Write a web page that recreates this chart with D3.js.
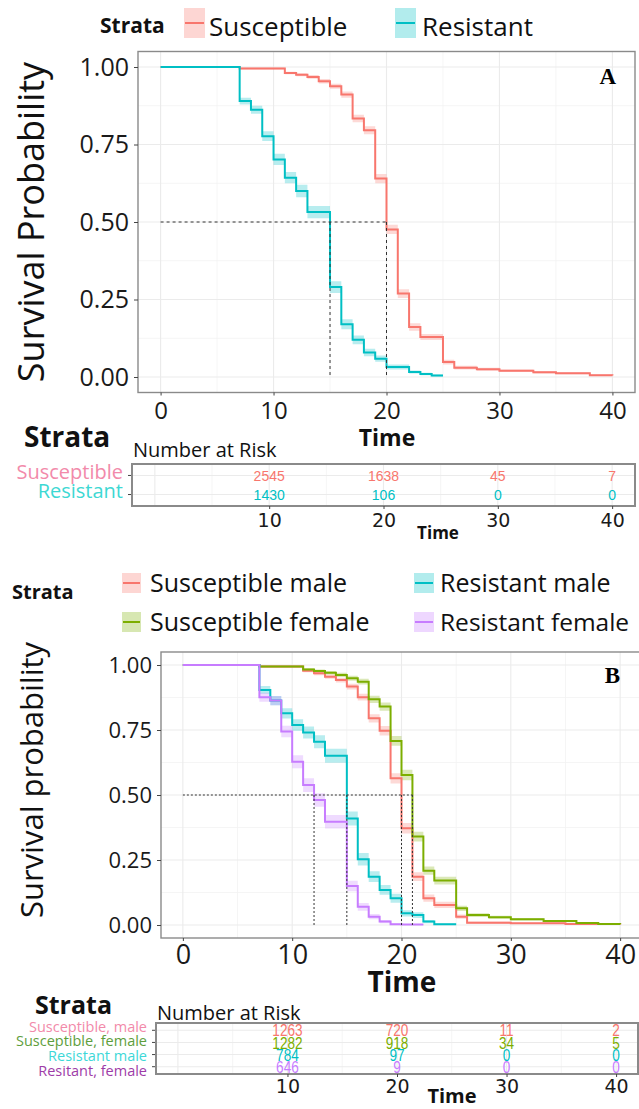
<!doctype html>
<html lang="en">
<head>
  <meta charset="UTF-8">
  <title>Survival curves</title>
  <script src="https://cdn.jsdelivr.net/npm/d3@7"></script>
  <style>
    body { margin: 0; background: #fff; }
  </style>
</head>
<body>
<div id="container"></div>
<script type="text/javascript">
// ---- panel A : two strata ----
var susTimeA = [0, 7, 11, 12, 13, 14, 15, 16, 17, 18, 19, 20, 21, 22, 23, 25, 26, 28, 30, 33, 35, 38, 40];
var susSurvA = [1, 0.995, 0.981, 0.975, 0.968, 0.954, 0.938, 0.911, 0.834, 0.796, 0.64, 0.476, 0.269, 0.161, 0.129, 0.048, 0.030, 0.025, 0.020, 0.015, 0.012, 0.006, 0.005];
var susCiA   = [0, 0.003, 0.004, 0.005, 0.006, 0.007, 0.008, 0.010, 0.012, 0.013, 0.015, 0.015, 0.014, 0.012, 0.010, 0.008, 0.006, 0.005, 0.004, 0.004, 0.003, 0.003, 0.003];

var resTimeA = [0, 7, 8, 9, 10, 11, 12, 13, 15, 16, 17, 18, 19, 20, 22, 23, 24, 25];
var resSurvA = [1, 0.89, 0.862, 0.777, 0.702, 0.643, 0.60, 0.532, 0.29, 0.17, 0.12, 0.079, 0.059, 0.032, 0.016, 0.010, 0.005, 0.005];
var resCiA   = [0, 0.011, 0.013, 0.016, 0.018, 0.018, 0.02, 0.02, 0.019, 0.016, 0.014, 0.012, 0.01, 0.008, 0.005, 0.004, 0.003, 0.003];

var medianA = [15, 20];
var strataA = ['Susceptible', 'Resistant'];

// ---- panel B : four strata ----
var smTime = [0, 7, 11, 12, 13, 14, 15, 16, 17, 18, 19, 20, 21, 22, 23, 25, 26, 30, 35, 40];
var smSurv = [1, 0.994, 0.978, 0.968, 0.955, 0.942, 0.917, 0.876, 0.795, 0.747, 0.564, 0.372, 0.186, 0.103, 0.077, 0.032, 0.009, 0.007, 0.004, 0.002];
var smCi   = [0, 0.004, 0.006, 0.007, 0.008, 0.009, 0.011, 0.013, 0.016, 0.018, 0.02, 0.02, 0.017, 0.014, 0.012, 0.008, 0.004, 0.003, 0.002, 0.002];

var sfTime = [0, 7, 11, 12, 13, 14, 15, 16, 17, 18, 19, 20, 21, 22, 23, 25, 26, 28, 30, 33, 36, 38, 40];
var sfSurv = [1, 0.994, 0.983, 0.977, 0.970, 0.962, 0.949, 0.936, 0.868, 0.84, 0.708, 0.577, 0.34, 0.209, 0.171, 0.064, 0.038, 0.030, 0.022, 0.015, 0.008, 0.004, 0.003];
var sfCi   = [0, 0.004, 0.005, 0.006, 0.007, 0.008, 0.01, 0.011, 0.014, 0.016, 0.019, 0.02, 0.019, 0.016, 0.015, 0.01, 0.007, 0.006, 0.005, 0.004, 0.003, 0.002, 0.002];

var rmTime = [0, 7, 8, 9, 10, 11, 12, 13, 15, 16, 17, 18, 19, 20, 21, 22, 23, 25];
var rmSurv = [1, 0.904, 0.863, 0.814, 0.769, 0.74, 0.705, 0.651, 0.41, 0.253, 0.186, 0.135, 0.103, 0.045, 0.038, 0.013, 0.003, 0.003];
var rmCi   = [0, 0.015, 0.018, 0.02, 0.022, 0.023, 0.025, 0.027, 0.027, 0.024, 0.021, 0.019, 0.017, 0.012, 0.011, 0.006, 0.003, 0.003];

var rfTime = [0, 7, 8, 9, 10, 11, 12, 13, 15, 16, 17, 18, 19, 20, 22];
var rfSurv = [1, 0.876, 0.863, 0.744, 0.628, 0.538, 0.481, 0.397, 0.15, 0.07, 0.032, 0.013, 0.003, 0.002, 0.002];
var rfCi   = [0, 0.017, 0.018, 0.022, 0.025, 0.026, 0.026, 0.026, 0.02, 0.015, 0.01, 0.006, 0.003, 0.002, 0.002];

var medianB = [12, 15, 20, 21];
var legendB = ['Susceptible male', 'Resistant male', 'Susceptible female', 'Resistant female'];
var strataB = ['Susceptible, male', 'Susceptible, female', 'Resistant male', 'Resitant, female'];

// ---- number at risk ----
var riskTimes = [10, 20, 30, 40];
var riskSusA = [2545, 1638, 45, 7];
var riskResA = [1430, 106, 0, 0];
var riskSm = [1263, 720, 11, 2];
var riskSf = [1282, 918, 34, 5];
var riskRm = [784, 97, 0, 0];
var riskRf = [646, 9, 0, 0];

var xTicks = [0, 10, 20, 30, 40];
var yTicks = [0, 0.25, 0.5, 0.75, 1];

var RED = '#F8766D', TEAL = '#00BFC4', GREEN = '#7CAE00', PURPLE = '#C77CFF';

var svg = d3.select('#container').append('svg')
  .attr('width', 639)
  .attr('height', 1109)
  .style('font-family', '"Open Sans", sans-serif');
svg.append('rect').attr('width', 639).attr('height', 1109).attr('fill', '#fff');

function styleAxis(sel, size, family) {
  sel.select('.domain').remove();
  sel.selectAll('.tick line').attr('stroke', '#444');
  sel.selectAll('.tick text')
    .attr('fill', '#1a1a1a')
    .style('font-size', size + 'px')
    .style('font-family', family || '"Open Sans", sans-serif');
}

function kmPanel(p) {
  var x = d3.scaleLinear().domain([-2, 42]).range([p.left, p.right]);
  var y = d3.scaleLinear().domain([-0.05, 1.05]).range([p.bottom, p.top]);
  var g = svg.append('g');

  g.selectAll('.xminor').data([5, 15, 25, 35]).enter().append('line')
    .attr('x1', x).attr('x2', x).attr('y1', p.top).attr('y2', p.bottom)
    .attr('stroke', '#f3f3f3').attr('stroke-width', 0.8);
  g.selectAll('.yminor').data([0.125, 0.375, 0.625, 0.875]).enter().append('line')
    .attr('y1', y).attr('y2', y).attr('x1', p.left).attr('x2', p.right)
    .attr('stroke', '#f3f3f3').attr('stroke-width', 0.8);
  g.selectAll('.xmajor').data(xTicks).enter().append('line')
    .attr('x1', x).attr('x2', x).attr('y1', p.top).attr('y2', p.bottom)
    .attr('stroke', '#ebebeb').attr('stroke-width', 1.1);
  g.selectAll('.ymajor').data(yTicks).enter().append('line')
    .attr('y1', y).attr('y2', y).attr('x1', p.left).attr('x2', p.right)
    .attr('stroke', '#ebebeb').attr('stroke-width', 1.1);

  var area = d3.area().curve(d3.curveStepAfter)
    .x(function(d) { return x(d[0]); })
    .y0(function(d) { return y(Math.max(0, d[1] - d[2])); })
    .y1(function(d) { return y(Math.min(1, d[1] + d[2])); });
  var line = d3.line().curve(d3.curveStepAfter)
    .x(function(d) { return x(d[0]); })
    .y(function(d) { return y(d[1]); });

  p.series.forEach(function(s) {
    g.append('path').datum(d3.zip(s.time, s.surv, s.ci))
      .attr('d', area).attr('fill', s.color).attr('fill-opacity', 0.28);
  });
  p.series.forEach(function(s) {
    g.append('path').datum(d3.zip(s.time, s.surv))
      .attr('d', line).attr('fill', 'none').attr('stroke', s.color).attr('stroke-width', 2);
  });

  // median survival guides
  var dash = p.dash;
  g.append('line')
    .attr('x1', x(0)).attr('x2', x(d3.max(p.median)))
    .attr('y1', y(0.5)).attr('y2', y(0.5))
    .attr('stroke', '#333').attr('stroke-width', 1).attr('stroke-dasharray', dash);
  g.selectAll('.med').data(p.median).enter().append('line')
    .attr('x1', x).attr('x2', x).attr('y1', y(0.5)).attr('y2', y(0))
    .attr('stroke', '#333').attr('stroke-width', 1).attr('stroke-dasharray', dash);

  g.append('rect')
    .attr('x', p.left).attr('y', p.top)
    .attr('width', p.right - p.left).attr('height', p.bottom - p.top)
    .attr('fill', 'none').attr('stroke', '#8a8a8a').attr('stroke-width', 1.4);

  g.append('g').attr('transform', 'translate(' + p.left + ',0)')
    .call(d3.axisLeft(y).tickValues(yTicks).tickFormat(d3.format('.2f')).tickSize(4).tickPadding(p.yPad))
    .call(styleAxis, p.yFont);
  g.append('g').attr('transform', 'translate(0,' + p.bottom + ')')
    .call(d3.axisBottom(x).tickValues(xTicks).tickSize(3).tickPadding(p.xPad))
    .call(styleAxis, p.xFont);

  g.append('text')
    .attr('x', x(p.letterAt)).attr('y', p.letterY)
    .attr('text-anchor', 'middle')
    .style('font-family', '"Liberation Serif", "Times New Roman", serif')
    .style('font-weight', 'bold').style('font-size', '23px')
    .text(p.letter);
}

function riskTable(r) {
  var x = d3.scaleLinear().domain([-2, 42]).range([r.left, r.right]);
  var n = r.rows.length;
  var y = d3.scaleLinear().domain([0.4, n + 0.6]).range([r.top, r.bottom]);
  var g = svg.append('g');

  g.selectAll('.xminor').data([5, 15, 25, 35]).enter().append('line')
    .attr('x1', x).attr('x2', x).attr('y1', r.top).attr('y2', r.bottom)
    .attr('stroke', '#f3f3f3').attr('stroke-width', 0.8);
  g.selectAll('.xmajor').data(xTicks).enter().append('line')
    .attr('x1', x).attr('x2', x).attr('y1', r.top).attr('y2', r.bottom)
    .attr('stroke', '#ebebeb').attr('stroke-width', 1.1);
  g.selectAll('.ymajor').data(r.rows).enter().append('line')
    .attr('y1', function(d, i) { return y(i + 1); }).attr('y2', function(d, i) { return y(i + 1); })
    .attr('x1', r.left).attr('x2', r.right)
    .attr('stroke', '#ebebeb').attr('stroke-width', 1.1);

  r.rows.forEach(function(row, i) {
    g.selectAll('.num' + i).data(row.values).enter().append('text')
      .attr('transform', function(d, j) {
        return 'translate(' + x(riskTimes[j]) + ',' + y(i + 1) + ') scale(' + r.numScale + ',1)';
      })
      .attr('text-anchor', 'middle')
      .attr('dy', '0.36em')
      .attr('fill', row.color)
      .style('font-family', '"Liberation Sans", Arial, sans-serif')
      .style('font-size', r.numFont + 'px')
      .text(function(d) { return d; });

    g.append('line')
      .attr('x1', r.left - 4).attr('x2', r.left)
      .attr('y1', y(i + 1)).attr('y2', y(i + 1))
      .attr('stroke', '#444');
    // labels are spread a little wider than the rows, as in the original
    var ly = y(i + 1) + r.labelDy + (i - (n - 1) / 2) * r.labelSpread;
    g.append('text')
      .attr('x', r.left - 9).attr('y', ly)
      .attr('text-anchor', 'end')
      .attr('dy', '0.36em')
      .attr('fill', row.labelColor)
      .style('font-size', r.labelFont + 'px')
      .text(row.label);
  });

  g.append('rect')
    .attr('x', r.left).attr('y', r.top)
    .attr('width', r.right - r.left).attr('height', r.bottom - r.top)
    .attr('fill', 'none').attr('stroke', '#8a8a8a').attr('stroke-width', 2);

  g.append('g').attr('transform', 'translate(0,' + r.bottom + ')')
    .call(d3.axisBottom(x).tickValues(riskTimes).tickSize(3).tickPadding(r.xPad))
    .call(styleAxis, r.xFont, '"DejaVu Sans", sans-serif');
}

function label(txt, x, y, size, weight, anchor) {
  return svg.append('text')
    .attr('x', x).attr('y', y)
    .attr('text-anchor', anchor || 'start')
    .attr('fill', '#111')
    .style('font-size', size + 'px')
    .style('font-weight', weight || 'normal')
    .text(txt);
}

function legendKey(x, y, w, h, color) {
  svg.append('rect').attr('x', x).attr('y', y).attr('width', w).attr('height', h)
    .attr('fill', color).attr('fill-opacity', 0.3);
  svg.append('line').attr('x1', x + 1).attr('x2', x + w - 1)
    .attr('y1', y + h / 2).attr('y2', y + h / 2)
    .attr('stroke', color).attr('stroke-width', 2);
}

// ===== Panel A =====
label('Strata', 100, 33, 21, 'bold');
legendKey(184, 8, 21, 30, RED);
label(strataA[0], 209, 36, 26);
legendKey(395, 8, 21, 30, TEAL);
label(strataA[1], 422, 36, 26);

kmPanel({
  left: 138, right: 635, top: 51.5, bottom: 392.5,
  series: [
    { time: susTimeA, surv: susSurvA, ci: susCiA, color: RED },
    { time: resTimeA, surv: resSurvA, ci: resCiA, color: TEAL }
  ],
  median: medianA, dash: '3,3',
  yFont: 25, yPad: 5, xFont: 24, xPad: 6,
  letter: 'A', letterAt: 39.6, letterY: 84
});
svg.append('text')
  .attr('transform', 'translate(44,222) rotate(-90)')
  .attr('text-anchor', 'middle')
  .attr('fill', '#111')
  .style('font-size', '36px')
  .text('Survival Probability');
label('Time', 387, 446, 23, 'bold', 'middle');

label('Strata', 24, 447, 28, 'bold');
label('Number at Risk', 133, 457, 20);
riskTable({
  left: 132, right: 635, top: 464, bottom: 506,
  rows: [
    { label: strataA[0], values: riskSusA, color: RED, labelColor: '#F28AAA' },
    { label: strataA[1], values: riskResA, color: TEAL, labelColor: '#3DD8D3' }
  ],
  numFont: 14, numScale: 1, labelFont: 20, labelDy: -4, labelSpread: 0,
  xFont: 19, xPad: 5
});
label('Time', 438, 539, 17, 'bold', 'middle');

// ===== Panel B =====
label('Strata', 12, 599, 20, 'bold');
legendKey(122, 573, 19, 20, RED);
label(legendB[0], 150, 592, 25);
legendKey(414, 573, 20, 20, TEAL);
label(legendB[1], 440, 592, 25);
legendKey(122, 612, 19, 20, GREEN);
label(legendB[2], 150, 631, 25);
legendKey(414, 612, 20, 20, PURPLE);
label(legendB[3], 440, 631, 24.5);

kmPanel({
  left: 161, right: 642, top: 652, bottom: 938,
  series: [
    { time: smTime, surv: smSurv, ci: smCi, color: RED },
    { time: sfTime, surv: sfSurv, ci: sfCi, color: GREEN },
    { time: rmTime, surv: rmSurv, ci: rmCi, color: TEAL },
    { time: rfTime, surv: rfSurv, ci: rfCi, color: PURPLE }
  ],
  median: medianB, dash: '2,2',
  yFont: 22, yPad: 5, xFont: 27, xPad: 4,
  letter: 'B', letterAt: 39.3, letterY: 683
});
svg.append('text')
  .attr('transform', 'translate(43,780) rotate(-90)')
  .attr('text-anchor', 'middle')
  .attr('fill', '#111')
  .style('font-size', '31px')
  .text('Survival probability');
label('Time', 402, 992, 28, 'bold', 'middle');

label('Strata', 35, 1014, 25, 'bold');
label('Number at Risk', 157, 1020, 20);
riskTable({
  left: 156, right: 638, top: 1023, bottom: 1074,
  rows: [
    { label: strataB[0], values: riskSm, color: RED, labelColor: '#F28AAA' },
    { label: strataB[1], values: riskSf, color: GREEN, labelColor: '#5E9E3C' },
    { label: strataB[2], values: riskRm, color: TEAL, labelColor: '#3DD8D8' },
    { label: strataB[3], values: riskRf, color: PURPLE, labelColor: '#9E3CA8' }
  ],
  numFont: 17, numScale: 0.8, labelFont: 14.5, labelDy: 0, labelSpread: 2.5,
  xFont: 19, xPad: 3
});
label('Time', 452, 1103, 20, 'bold', 'middle');
</script>
</body>
</html>
